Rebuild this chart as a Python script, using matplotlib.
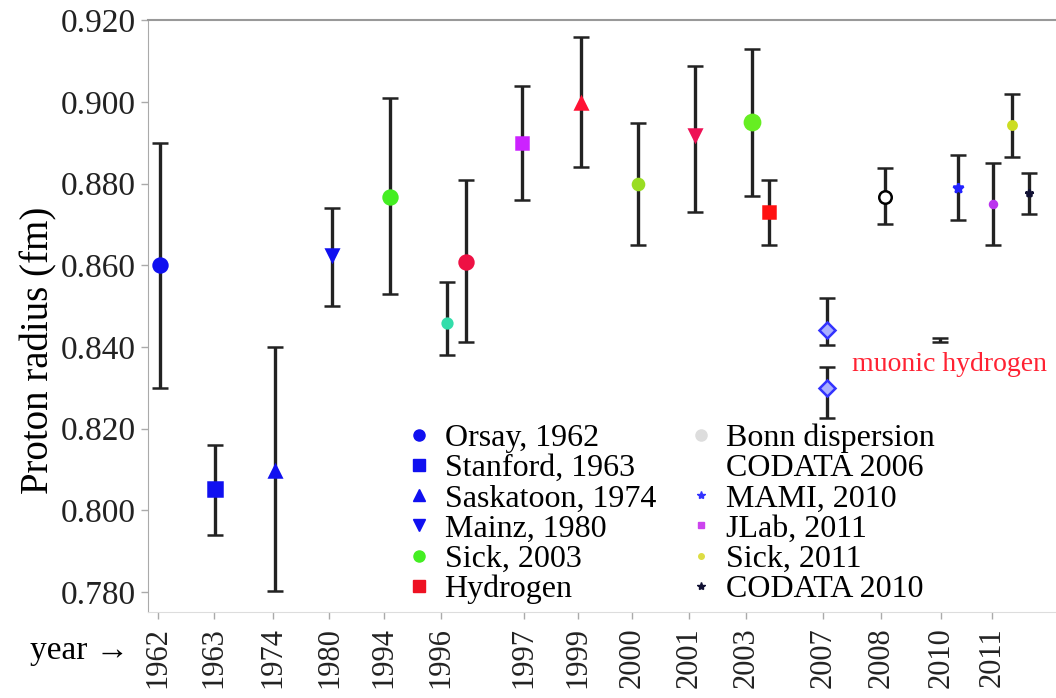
import matplotlib
matplotlib.use("Agg")
import matplotlib.pyplot as plt
from matplotlib.lines import Line2D

plt.rcParams["font.family"] = ["Liberation Serif", "DejaVu Serif"]

# measured points: position along the axis, radius, error bar ends (fm)
xpos = [0.21, 1.18, 2.23, 3.23, 4.25, 5.26, 5.58, 6.58, 7.60, 8.60, 9.61,
        10.61, 10.91, 11.93, 11.93, 12.95, 13.91, 14.23, 14.84, 15.18, 15.47]
radius = [0.860, 0.8052, 0.8096, 0.8625, 0.8767, 0.846, 0.8608, 0.890, 0.8997,
          0.880, 0.892, 0.895, 0.873, 0.8441, 0.830, 0.8767, 0.8417, 0.8789,
          0.875, 0.8943, 0.8776]
err_low = [0.830, 0.794, 0.7803, 0.850, 0.853, 0.838, 0.8412, 0.876, 0.884,
           0.865, 0.873, 0.877, 0.865, 0.8405, 0.8226, 0.870, 0.8413, 0.871,
           0.865, 0.8865, 0.8725]
err_high = [0.890, 0.8161, 0.840, 0.874, 0.901, 0.856, 0.8808, 0.9038, 0.9158,
            0.8948, 0.9088, 0.913, 0.881, 0.852, 0.835, 0.8838, 0.8421, 0.887,
            0.885, 0.902, 0.8826]
colors = ["#1010f0", "#1010f0", "#1010f0", "#1010f0", "#44ee22", "#33ddaa",
          "#ee1144", "#cc22ff", "#ff1133", "#99dd22", "#ee1155", "#66ee22",
          "#ff1111", "#3333ff", "#3333ff", "#000000", "#000000", "#2222ff",
          "#bb33ee", "#ccdd22", "#111133"]
markers = ["o", "s", "^", "v", "o", "o", "o", "s", "^", "o", "v", "o", "s",
           "D", "D", "o", "", "*", "o", "o", "*"]
msizes = [10, 10, 9, 9, 10, 7, 10, 9, 9, 8, 9, 11, 9, 8, 8, 9, 0, 7, 5, 6, 6]

year_pos = [0.18, 1.16, 2.19, 3.19, 4.14, 5.14, 6.61, 7.56, 8.51, 9.51,
            10.51, 11.86, 12.88, 13.93, 14.82]
year_labels = ["1962", "1963", "1974", "1980", "1994", "1996", "1997", "1999",
               "2000", "2001", "2003", "2007", "2008", "2010", "2011"]

legend_labels = ["Orsay, 1962", "Stanford, 1963", "Saskatoon, 1974",
                 "Mainz, 1980", "Sick, 2003", "Hydrogen", "Bonn dispersion",
                 "CODATA 2006", "MAMI, 2010", "JLab, 2011", "Sick, 2011",
                 "CODATA 2010"]
legend_colors = ["#1010f0", "#1010f0", "#1010f0", "#1010f0", "#44ee22",
                 "#ee1122", "#dddddd", "#ffffff", "#3333ff", "#cc44ee",
                 "#dddd44", "#111133"]
legend_markers = ["o", "s", "^", "v", "o", "s", "o", "o", "*", "s", "o", "*"]
legend_sizes = [8, 8, 8, 8, 8, 8, 8, 5, 6, 4, 4, 6]

fig = plt.figure(figsize=(10.56, 6.98), dpi=100)
ax = fig.add_axes([0.140, 0.123, 0.860, 0.848])

for i in range(len(xpos)):
    yerr = [[radius[i] - err_low[i]], [err_high[i] - radius[i]]]
    face = colors[i]
    if i in (13, 14):
        face = "#aab0ff"
    if i == 15:
        face = "white"
    ax.errorbar([xpos[i]], [radius[i]], yerr=yerr, fmt=markers[i] or "none",
                color=colors[i], mfc=face, mec=colors[i], ms=msizes[i],
                mew=1.8, ecolor="#222222", elinewidth=2.4, capsize=5.5,
                capthick=2.2, zorder=3)

ax.text(12.37, 0.8357, "muonic hydrogen", color="#ff2233", fontsize=20,
        va="center", ha="left")

ax.set_xlim(0, 15.95)
ax.set_ylim(0.7751, 0.920)
ax.set_yticks([0.780, 0.800, 0.820, 0.840, 0.860, 0.880, 0.900, 0.920])
ax.set_yticklabels(["%.3f" % v for v in ax.get_yticks()], fontsize=24,
                   color="#222222")
ax.set_xticks(year_pos)
ax.set_xticklabels(year_labels, rotation=90, fontsize=22, color="#222222")
ax.tick_params(axis="both", color="#aaaaaa", length=5, width=1)
ax.tick_params(axis="x", pad=6)
ax.spines["right"].set_visible(False)
ax.spines["bottom"].set_color("#dddddd")
ax.spines["left"].set_color("#aaaaaa")
ax.spines["top"].set_color("#999999")
ax.spines["top"].set_linewidth(1.5)

ax.set_ylabel("Proton radius (fm)", fontsize=28)
ax.yaxis.set_label_coords(-0.100, 0.443)
fig.text(0.028, 0.068, "year \u2192", fontsize=24, ha="left", va="center")

handles = [Line2D([], [], ls="none", marker=m, color=c, ms=s)
           for m, c, s in zip(legend_markers, legend_colors, legend_sizes)]
ax.legend(handles, legend_labels, ncol=2, loc="upper left",
          bbox_to_anchor=(403 / 1056, 1 - 420 / 698),
          bbox_transform=fig.transFigure, frameon=False, fontsize=23,
          handlelength=0.8, handletextpad=0.4, labelspacing=0.03,
          columnspacing=1.0, borderpad=0.1, borderaxespad=0)

fig.savefig("out.png", dpi=100)
